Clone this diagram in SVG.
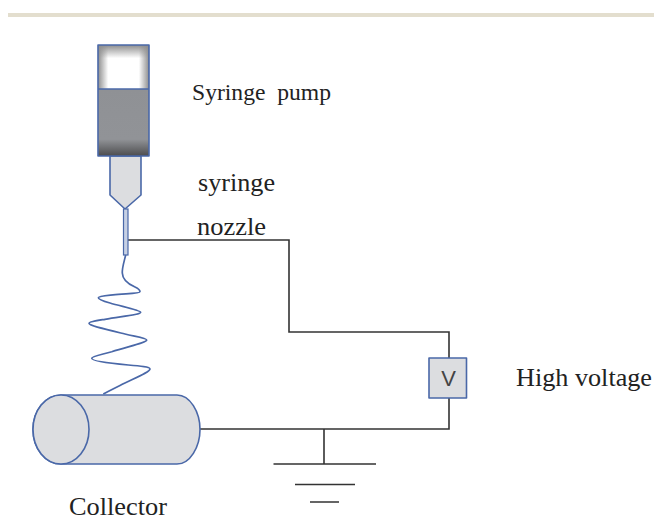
<svg xmlns="http://www.w3.org/2000/svg" width="654" height="517" viewBox="0 0 654 517">
<style>
.b{stroke:#4a68a8;stroke-width:1.6;stroke-linejoin:round}
.f{fill:#dcdde0}
.w{fill:none;stroke:#333;stroke-width:1.6}
.t{font-family:"Liberation Serif",serif;fill:#222;font-size:25.5px}
</style>
<defs>
<linearGradient id="gb" x1="0" y1="0" x2="0" y2="1"><stop offset="0" stop-color="#8f9195"/><stop offset=".75" stop-color="#919397"/><stop offset="1" stop-color="#4c4c4e"/></linearGradient>
<linearGradient id="wt" x1="0" y1="0" x2="0" y2="1"><stop offset="0" stop-color="#8e8e8e"/><stop offset=".3" stop-color="#fff"/><stop offset="1" stop-color="#fff"/></linearGradient>
<linearGradient id="wl" x1="0" y1="0" x2="1" y2="0"><stop offset="0" stop-color="#8e8e8e"/><stop offset=".2" stop-color="#8e8e8e" stop-opacity="0"/><stop offset=".8" stop-color="#8e8e8e" stop-opacity="0"/><stop offset="1" stop-color="#8e8e8e"/></linearGradient>
</defs>
<rect x="8" y="13" width="646" height="4" fill="#e3dece"/>
<g id="connectors">
<path class="w" d="M128 240H289V332H449V358"/>
<path class="w" d="M200 429H449V398"/>
<path class="w" d="M324 429V464"/>
</g>
<g id="ground">
<path class="w" d="M273.500 464H376M295 484.500H355M310 502H339"/>
</g>
<g id="syringe">
<path class="b f" d="M110 156H141V195L125 209L110 195Z"/>
<rect x="98" y="45" width="51" height="44" fill="url(#wt)"/>
<rect x="98" y="45" width="51" height="44" fill="url(#wl)"/>
<rect x="98" y="89" width="51" height="67" fill="url(#gb)"/>
<rect class="b" x="98" y="45" width="51" height="111" fill="none"/>
<path class="b" d="M98 89H149" fill="none"/>
</g>
<g id="nozzle">
<rect x="123.500" y="209" width="4.500" height="46" fill="#c6d0e4" stroke="#4a68a8" stroke-width="1.200"/>
</g>
<g id="jet">
<path d="M125.700 255C124 262 122 268 122.300 273C122.500 280 128 284 135 287C138 288.500 140 290 140 291.700C140 293.500 125 293.500 113 294.800C106 295.500 98.300 296 98.300 297.700C98.300 299.500 103 301 110 303C122 306.500 140.700 310.500 140.700 312.300C140.700 314.500 125 316 105 319.300C96 320.800 89 321.800 89 323.300C89 325.500 100 328 125 334C135 336.500 146.700 338 146.700 340C146.700 342.500 130 346 111.700 351.700C100 355 91.700 356.500 91.700 358.300C91.700 360.500 105 363 128.300 365C140 366 150 367 150 369C150 372 135 378 120 385.500C112 389.500 107 392 103.300 394" fill="none" stroke="#4a68a8" stroke-width="1.700"/>
</g>
<g id="collector">
<path class="b f" d="M61 395H177C190 395 200 412 200 429.500C200 447 190 464 177 464H61C45 464 33 448 33 429.500C33 411 45 395 61 395Z"/>
<ellipse class="b f" cx="61" cy="429.500" rx="28" ry="34.500"/>
</g>
<g id="voltage">
<rect class="b f" x="429" y="358" width="37.500" height="40"/>
<text x="448.500" y="386" font-family="Liberation Sans,sans-serif" font-size="22" fill="#444" text-anchor="middle">V</text>
</g>
<text class="t" x="192" y="100" style="font-size:23.5px" textLength="139" lengthAdjust="spacingAndGlyphs" xml:space="preserve">Syringe  pump</text>
<text class="t" x="198" y="191" textLength="77" lengthAdjust="spacingAndGlyphs">syringe</text>
<text class="t" x="197" y="235" textLength="69" lengthAdjust="spacingAndGlyphs">nozzle</text>
<text class="t" x="516" y="386" textLength="136" lengthAdjust="spacingAndGlyphs">High voltage</text>
<text class="t" x="69" y="515" textLength="98" lengthAdjust="spacingAndGlyphs">Collector</text>
</svg>
